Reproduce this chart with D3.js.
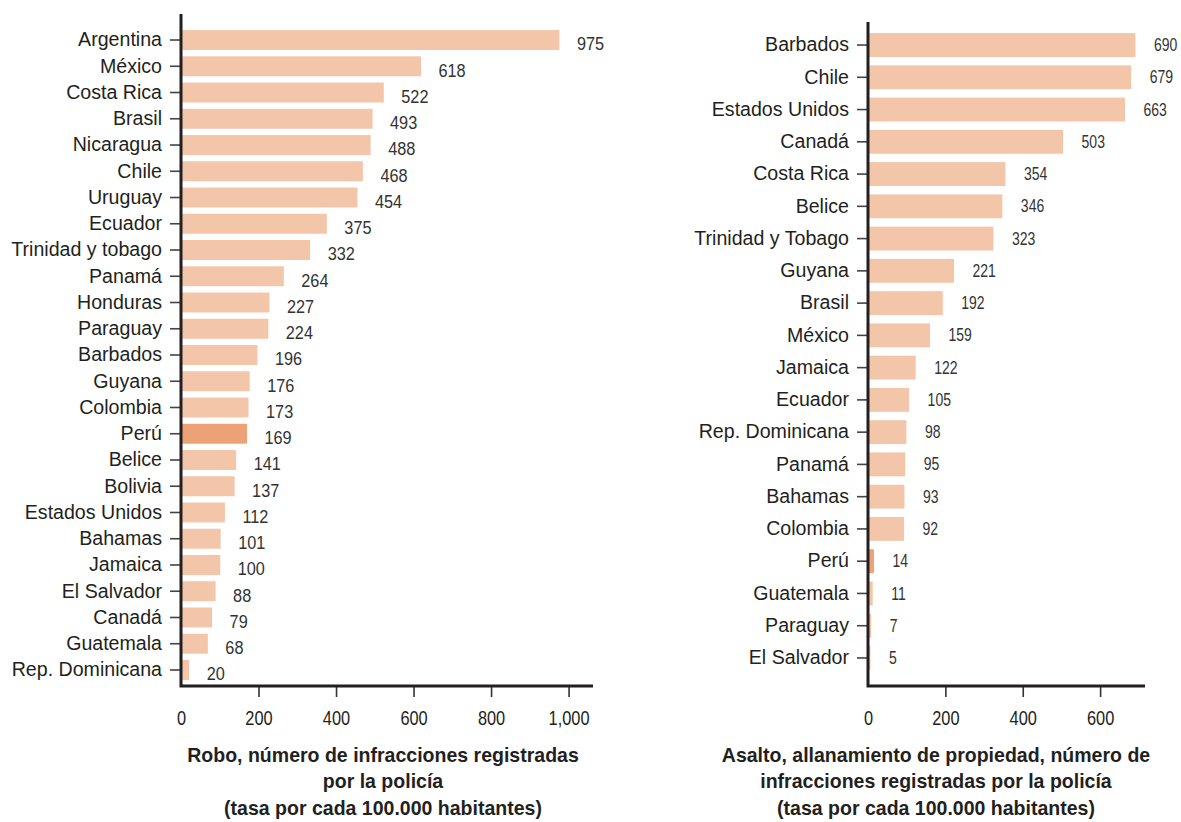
<!DOCTYPE html>
<html><head><meta charset="utf-8">
<script src="https://cdn.jsdelivr.net/npm/d3@7"></script>
<style>
body{margin:0;background:#fff;}
svg{display:block;}
text{font-family:"Liberation Sans",Arial,sans-serif;fill:#231f20;}
</style></head>
<body>
<svg id="c" width="1181" height="822"></svg>
<script>
const robCategories = ["Argentina","México","Costa Rica","Brasil","Nicaragua","Chile","Uruguay","Ecuador","Trinidad y tobago","Panamá","Honduras","Paraguay","Barbados","Guyana","Colombia","Perú","Belice","Bolivia","Estados Unidos","Bahamas","Jamaica","El Salvador","Canadá","Guatemala","Rep. Dominicana"];
const robValues = [975,618,522,493,488,468,454,375,332,264,227,224,196,176,173,169,141,137,112,101,100,88,79,68,20];
const robTicks = [0,200,400,600,800,1000];
const robTickLabels = ["0","200","400","600","800","1,000"];
const robTitle = ["Robo, número de infracciones registradas","por la policía","(tasa por cada 100.000 habitantes)"];

const asaCategories = ["Barbados","Chile","Estados Unidos","Canadá","Costa Rica","Belice","Trinidad y Tobago","Guyana","Brasil","México","Jamaica","Ecuador","Rep. Dominicana","Panamá","Bahamas","Colombia","Perú","Guatemala","Paraguay","El Salvador"];
const asaValues = [690,679,663,503,354,346,323,221,192,159,122,105,98,95,93,92,14,11,7,5];
const asaTicks = [0,200,400,600];
const asaTickLabels = ["0","200","400","600"];
const asaTitle = ["Asalto, allanamiento de propiedad, número de","infracciones registradas por la policía","(tasa por cada 100.000 habitantes)"];

const highlight = "Perú";
const barColor = "#f3c6a9";
const hiColor = "#eca177";
const axisColor = "#231f20";

const svg = d3.select("#c");

function panel(o){
  const g = svg.append("g");
  const x = d3.scaleLinear().domain([0,o.xmax]).range([o.x0,o.x1]);
  const y = d3.scaleBand().domain(o.cats).range([o.r0,o.r1]).paddingInner(o.pad).paddingOuter(o.pad/2);
  // bars
  g.selectAll("rect.bar").data(o.cats).enter().append("rect")
    .attr("x", x(0))
    .attr("y", d=>y(d))
    .attr("width", (d,i)=>Math.max(0,x(o.vals[i])-x(0)+0.5))
    .attr("height", y.bandwidth())
    .attr("fill", d=> d===highlight?hiColor:barColor);
  // value labels
  g.selectAll("text.val").data(o.cats).enter().append("text")
    .attr("transform",(d,i)=>`translate(${x(o.vals[i])+o.valOff},${y(d)+y.bandwidth()/2+o.valDy}) scale(${o.valSx},1)`)
    .attr("dominant-baseline","central")
    .style("font-size",o.valSize+"px")
    .style("fill","#333")
    .text((d,i)=>o.vals[i]);
  // y axis
  const ya = g.append("g").attr("transform",`translate(${o.x0},0)`)
    .call(d3.axisLeft(y).tickSize(11).tickPadding(8).tickSizeOuter(0));
  ya.select(".domain").remove();
  ya.selectAll(".tick line").attr("stroke","#444").attr("stroke-width",1.6);
  ya.selectAll(".tick text").style("font-size",o.catSize+"px").style("font-family",null).attr("fill",axisColor);
  // x axis
  const xa = g.append("g").attr("transform",`translate(0,${o.yb})`)
    .call(d3.axisBottom(x).tickValues(o.ticks).tickFormat((d,i)=>o.tickLabels[i]).tickSize(11).tickPadding(13).tickSizeOuter(0));
  xa.select(".domain").remove();
  xa.selectAll(".tick line").attr("stroke","#333").attr("stroke-width",1.6);
  xa.selectAll(".tick").filter(d=>d===0).select("line").remove();
  xa.selectAll(".tick text").style("font-size","21px").style("font-family",null).attr("fill",axisColor)
    .attr("transform","scale(0.78,1)");
  // axis lines
  g.append("path").attr("d",`M${o.x0},${o.ytop}V${o.yb}H${o.x1}`)
    .attr("fill","none").attr("stroke",axisColor).attr("stroke-width",3);
  // title
  const t = g.append("text").attr("text-anchor","middle").style("font-weight","bold").style("font-size","21px")
    .attr("transform",`translate(${o.tx},0) scale(${o.tsx},1)`);
  o.title.forEach((s,i)=>t.append("tspan").attr("x",0).attr("y",762+i*26.5).text(s));
}

panel({cats:robCategories, vals:robValues, xmax:1063, x0:181, x1:593, r0:26.9, r1:683.1, pad:0.24,
  ytop:14, yb:686, ticks:robTicks, tickLabels:robTickLabels, title:robTitle, tx:383, tsx:0.93,
  valOff:18, valDy:4, valSize:18.5, valSx:0.88, catSize:19.6});
panel({cats:asaCategories, vals:asaValues, xmax:716, x0:868, x1:1145, r0:28.9, r1:674.1, pad:0.26,
  ytop:22, yb:686, ticks:asaTicks, tickLabels:asaTickLabels, title:asaTitle, tx:936, tsx:0.93,
  valOff:19, valDy:0, valSize:17.5, valSx:0.8, catSize:19.6});
</script>
</body></html>
